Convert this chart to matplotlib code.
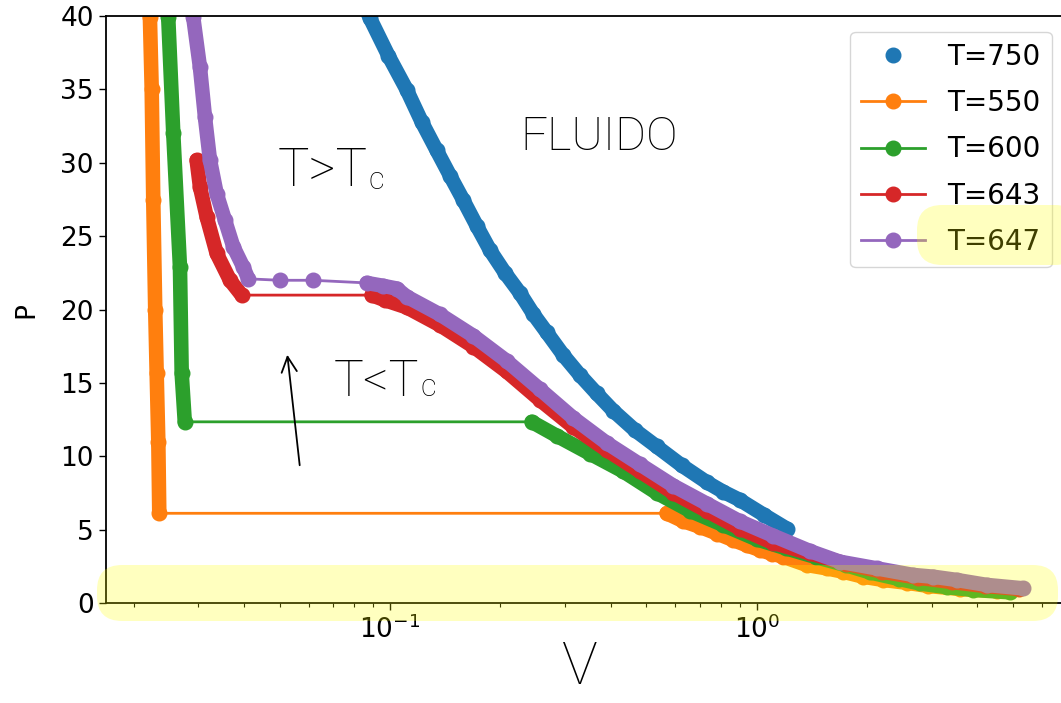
import numpy as np
import matplotlib
matplotlib.use("Agg")
import matplotlib.pyplot as plt
from matplotlib.patches import FancyBboxPatch

# isotherm data (V, P)
V750 = [0.0760, 0.0825, 0.0882, 0.0990, 0.1110, 0.1220, 0.1340, 0.1460, 0.1585, 0.1725,
        0.1874, 0.2060, 0.2262, 0.2460, 0.2675, 0.2970, 0.3297, 0.3660, 0.4064, 0.4650,
        0.5336, 0.6240, 0.7305, 0.8100, 0.9005, 1.0500, 1.2070]
P750 = [44.0, 41.5, 39.85, 37.3, 34.99, 32.8, 30.86, 29.1, 27.45, 25.7,
        24.05, 22.5, 21.13, 19.7, 18.46, 16.9, 15.54, 14.3, 13.11, 11.8,
        10.68, 9.4, 8.25, 7.6, 7.03, 6.0, 5.09]

V550_liq = [0.02200, 0.02215, 0.02240, 0.02262, 0.02290, 0.02311, 0.02335, 0.02349]
P550_liq = [45.0, 39.9, 35.0, 27.45, 20.0, 15.66, 11.0, 6.13]
V550_vap = [0.568, 0.630, 0.700, 0.780, 0.863, 0.940, 1.021, 1.100, 1.182, 1.369,
            1.552, 1.722, 1.953, 2.214, 2.564, 2.940, 3.580, 4.510]
P550_vap = [6.13, 5.60, 5.21, 4.75, 4.31, 3.95, 3.63, 3.38, 3.17, 2.61,
            2.38, 2.15, 1.81, 1.59, 1.40, 1.18, 0.98, 0.84]

V600_liq = [0.02460, 0.02485, 0.02565, 0.02675, 0.02704, 0.02757]
P600_liq = [45.0, 39.9, 32.0, 22.9, 15.66, 12.36]
V600_vap = [0.2434, 0.2848, 0.3510, 0.4328, 0.5336, 0.6578, 0.8109, 1.000, 1.200, 1.450,
            1.750, 2.040, 2.450, 2.790, 3.300, 3.900, 4.910]
P600_vap = [12.36, 11.41, 10.19, 8.98, 7.52, 6.30, 5.33, 4.36, 3.75, 3.15,
            2.60, 2.10, 1.65, 1.35, 1.10, 0.91, 0.75]

V643_liq = [0.02970, 0.03033, 0.03163, 0.03368, 0.03662, 0.03941]
P643_liq = [30.18, 28.36, 26.32, 23.83, 22.0, 20.99]
V643_vap = [0.0891, 0.0968, 0.1110, 0.1369, 0.1687, 0.2080, 0.2566, 0.3161, 0.3899, 0.4807,
            0.5925, 0.7305, 0.9005, 1.110, 1.400, 1.750, 2.200, 2.750, 3.400, 4.200, 5.200]
P643_vap = [20.99, 20.65, 20.16, 18.94, 17.49, 15.79, 13.84, 12.01, 10.44, 8.98,
            7.52, 6.30, 5.09, 4.11, 3.40, 2.70, 2.15, 1.75, 1.45, 1.18, 0.98]

V647_liq = [0.0285, 0.02908, 0.03033, 0.03130, 0.03229, 0.03368, 0.03548, 0.03738, 0.03981, 0.04108]
P647_liq = [44.0, 39.9, 36.5, 33.1, 30.2, 27.9, 26.1, 24.3, 22.9, 22.1]
V647_mid = [0.0501, 0.0618]
P647_mid = [22.0, 22.0]
V647_vap = [0.0864, 0.0959, 0.1043, 0.1110, 0.1369, 0.1687, 0.2080, 0.2566, 0.3161, 0.3899,
            0.4807, 0.5925, 0.7305, 0.9005, 1.110, 1.400, 1.687, 2.125, 2.670, 3.030,
            3.510, 4.240, 5.320]
P647_vap = [21.82, 21.62, 21.44, 20.89, 19.67, 18.22, 16.51, 14.57, 12.62, 10.92,
            9.46, 8.01, 6.79, 5.58, 4.60, 3.55, 2.83, 2.38, 1.93, 1.81,
            1.59, 1.25, 1.02]

W, H = 1061, 703
fig = plt.figure(figsize=(W / 100, H / 100), dpi=100)
ax = fig.add_axes([105.7 / W, 1 - 603.3 / H, (1080 - 105.7) / W, (603.3 - 16) / H])

ms = 10.5
lw = 2.0

# blue: markers only
ax.plot(V750, P750, '-', color='C0', lw=ms, solid_capstyle='round', solid_joinstyle='round')
ax.plot(V750, P750, 'o', color='C0', ms=ms, label='T=750')

series = [
    ('C1', 'T=550', [V550_liq, V550_vap], [P550_liq, P550_vap], None),
    ('C2', 'T=600', [V600_liq, V600_vap], [P600_liq, P600_vap], None),
    ('C3', 'T=643', [V643_liq, V643_vap], [P643_liq, P643_vap], None),
    ('C4', 'T=647', [V647_liq, V647_vap], [P647_liq, P647_vap], (V647_mid, P647_mid)),
]
for c, lab, Vs, Ps, mid in series:
    # dense branches look like a solid band of markers
    for v, p in zip(Vs, Ps):
        ax.plot(v, p, '-', color=c, lw=ms, solid_capstyle='round', solid_joinstyle='round')
    if mid is None:
        vall = np.concatenate([Vs[0], Vs[1]])
        pall = np.concatenate([Ps[0], Ps[1]])
    else:
        vall = np.concatenate([Vs[0], mid[0], Vs[1]])
        pall = np.concatenate([Ps[0], mid[1], Ps[1]])
    ax.plot(vall, pall, '-o', color=c, ms=ms, lw=lw, label=lab)

ax.set_xscale('log')
ax.set_xlim(0.01678, 7.615)
ax.set_ylim(0, 40)
ax.set_yticks(np.arange(0, 41, 5))
ax.tick_params(labelsize=19, width=1.0, length=5)
ax.tick_params(which='minor', width=0.8, length=3)
for s in ax.spines.values():
    s.set_linewidth(1.3)

ax.set_ylabel('P', fontsize=19)
ax.yaxis.set_label_coords(-0.068, 0.5)

hand = dict(family=['Roboto', 'DejaVu Sans'], weight='light', color='black')
ax.set_xlabel('V', fontsize=43, family=['Roboto', 'DejaVu Sans'], weight=100, va='baseline')
ax.xaxis.set_label_coords((580 - 105.7) / (1080 - 105.7), (603.3 - 684) / (603.3 - 16))

leg = ax.legend(loc='upper right', bbox_to_anchor=(1052 / W, 1 - 31.7 / H),
                bbox_transform=fig.transFigure, borderaxespad=0, fontsize=20,
                handlelength=2.3, labelspacing=0.66, handletextpad=0.8, borderpad=0.4)

# handwritten notes
fig.text(278 / W, 1 - 186 / H, 'T>T', fontsize=38, **hand)
fig.text(368 / W, 1 - 189 / H, 'c', fontsize=22, **hand)
fig.text(520 / W, 1 - 150 / H, 'FLUIDO', fontsize=34, **hand)
fig.text(334 / W, 1 - 396 / H, 'T<T', fontsize=36, **hand)
fig.text(420 / W, 1 - 396 / H, 'c', fontsize=22, **hand)
ax.annotate('', xy=(287, H - 352), xytext=(300, H - 468), xycoords='figure pixels',
            textcoords='figure pixels',
            arrowprops=dict(arrowstyle='->,head_length=1.1,head_width=0.55', lw=1.3, color='black'))

# yellow highlighter marks
for (x0, y0, x1, y1) in [(97, 565, 1058, 621), (917, 205, 1080, 265)]:
    fig.patches.append(FancyBboxPatch(((x0) / 100, (H - y1) / 100), (x1 - x0) / 100, (y1 - y0) / 100,
                                      boxstyle='round,pad=0,rounding_size=0.25',
                                      transform=fig.dpi_scale_trans, facecolor='#ffff00',
                                      alpha=0.25, edgecolor='none', zorder=10))

fig.savefig('out.png', dpi=100)
